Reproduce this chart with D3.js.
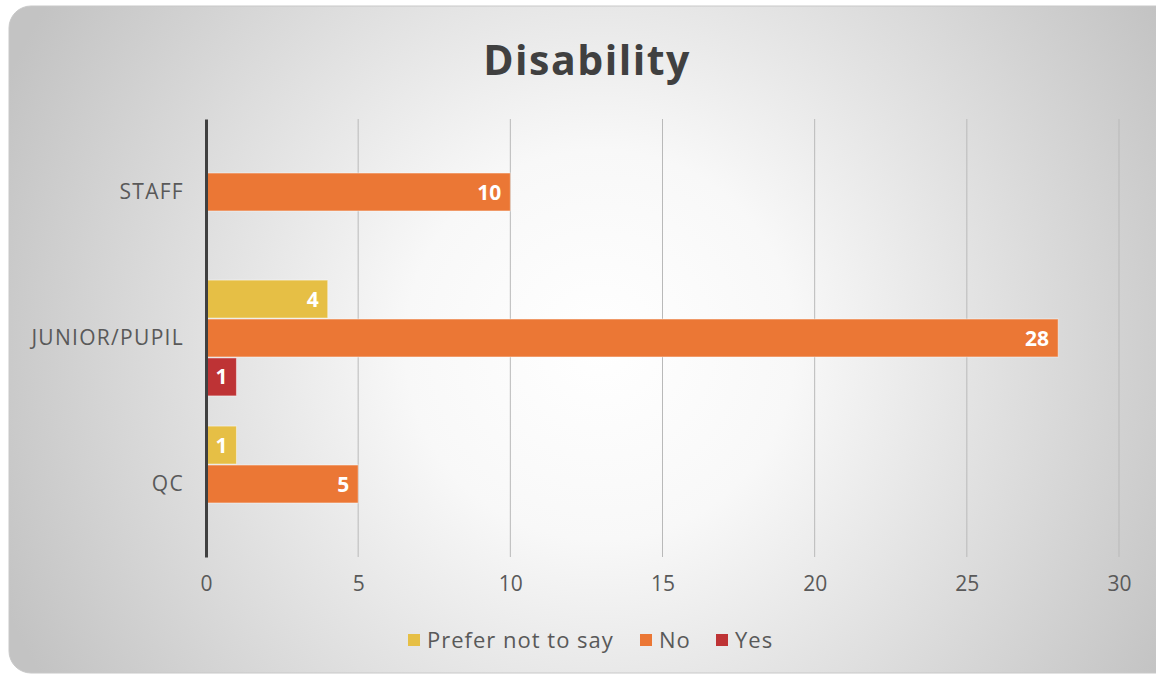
<!DOCTYPE html>
<html><head><meta charset="utf-8">
<script src="https://cdn.jsdelivr.net/npm/d3@7"></script>
<style>
html,body{margin:0;padding:0;background:#fff;}
svg{display:block;font-family:"Open Sans", Lato, sans-serif;}
</style></head>
<body>
<svg id="c" width="1156" height="675"></svg>
<script>
const categories = ["STAFF", "JUNIOR/PUPIL", "QC"];
const seriesNames = ["Prefer not to say", "No", "Yes"];
const preferNotToSay = [null, 4, 1];
const no = [10, 28, 5];
const yes = [null, 1, null];
const xTicks = [0, 5, 10, 15, 20, 25, 30];
const colors = ["#E6BF45", "#EB7735", "#BE3335"];

const seriesValues = [preferNotToSay, no, yes];
const svg = d3.select("#c");

const defs = svg.append("defs");
const rg = defs.append("radialGradient").attr("id","bg")
  .attr("gradientUnits","userSpaceOnUse").attr("cx",600).attr("cy",345).attr("r",650);
rg.append("stop").attr("offset","0").attr("stop-color","#ffffff");
rg.append("stop").attr("offset","0.3").attr("stop-color","#f8f8f8");
rg.append("stop").attr("offset","1").attr("stop-color","#c3c3c3");

svg.append("rect").attr("x",9).attr("y",6).attr("width",1170).attr("height",667)
  .attr("rx",22).attr("ry",22).attr("fill","url(#bg)").attr("stroke","#c8c8c8").attr("stroke-width",1);

// title
svg.append("text").attr("x",587).attr("y",75).attr("text-anchor","middle")
  .attr("font-size",41).attr("font-weight",700).attr("letter-spacing",1.5)
  .attr("fill","#404040").text("Disability");

const x = d3.scaleLinear().domain([0,30]).range([206,1119]);
const y = d3.scaleBand().domain(categories).range([119,557]).padding(0);
const step = y.bandwidth();
const barH = step/(3+0.75);
const off = (step - 3*barH)/2;
const ys = d3.scaleBand().domain(seriesNames).range([off, off+3*barH]).padding(0);

// gridlines
svg.append("g").selectAll("line").data(xTicks.filter(t=>t>0)).join("line")
  .attr("x1",d=>x(d)).attr("x2",d=>x(d)).attr("y1",119).attr("y2",557)
  .attr("stroke","#b9b9b9").attr("stroke-width",1);

// bars
const data = [];
categories.forEach((c,i)=>seriesNames.forEach((s,j)=>{
  const v = seriesValues[j][i];
  if (v != null) data.push({c, s, v, j});
}));
const bars = svg.append("g");
bars.selectAll("rect").data(data).join("rect")
  .attr("x",x(0)).attr("y",d=>y(d.c)+ys(d.s)+0.5)
  .attr("width",d=>x(d.v)-x(0)).attr("height",ys.bandwidth()-1)
  .attr("fill",d=>colors[d.j]).attr("stroke","rgba(255,255,255,0.45)").attr("stroke-width",1);
bars.selectAll("text").data(data).join("text")
  .attr("x",d=>x(d.v)-9).attr("y",d=>y(d.c)+ys(d.s)+ys.bandwidth()/2+7.5)
  .attr("text-anchor","end").attr("font-size",21).attr("font-weight",700).attr("fill","#fff")
  .text(d=>d.v);

// x axis labels
const xa = svg.append("g").attr("transform","translate(0,557)")
  .call(d3.axisBottom(x).tickValues(xTicks).tickSize(0).tickPadding(19));
xa.select(".domain").remove();
xa.selectAll("text").attr("font-size",21).attr("fill","#595959").attr("font-family","'Open Sans', sans-serif");

// y axis
const ya = svg.append("g").attr("transform","translate(206,0)")
  .call(d3.axisLeft(y).tickSize(0).tickPadding(22));
ya.select(".domain").attr("stroke","#404040").attr("stroke-width",3);
ya.selectAll("text").attr("font-size",21).attr("letter-spacing",1.3).attr("fill","#595959").attr("font-family","'Open Sans', sans-serif");

// legend
const leg = svg.append("g");
const legX = [408, 640, 716];
seriesNames.forEach((s,i)=>{
  const g = leg.append("g").attr("transform",`translate(${legX[i]},640)`);
  g.append("rect").attr("x",0).attr("y",-6).attr("width",12).attr("height",12).attr("fill",colors[i]);
  g.append("text").attr("x",19).attr("y",8).attr("font-size",22).attr("letter-spacing",1)
    .attr("fill","#595959").text(s);
});
</script>
</body></html>
